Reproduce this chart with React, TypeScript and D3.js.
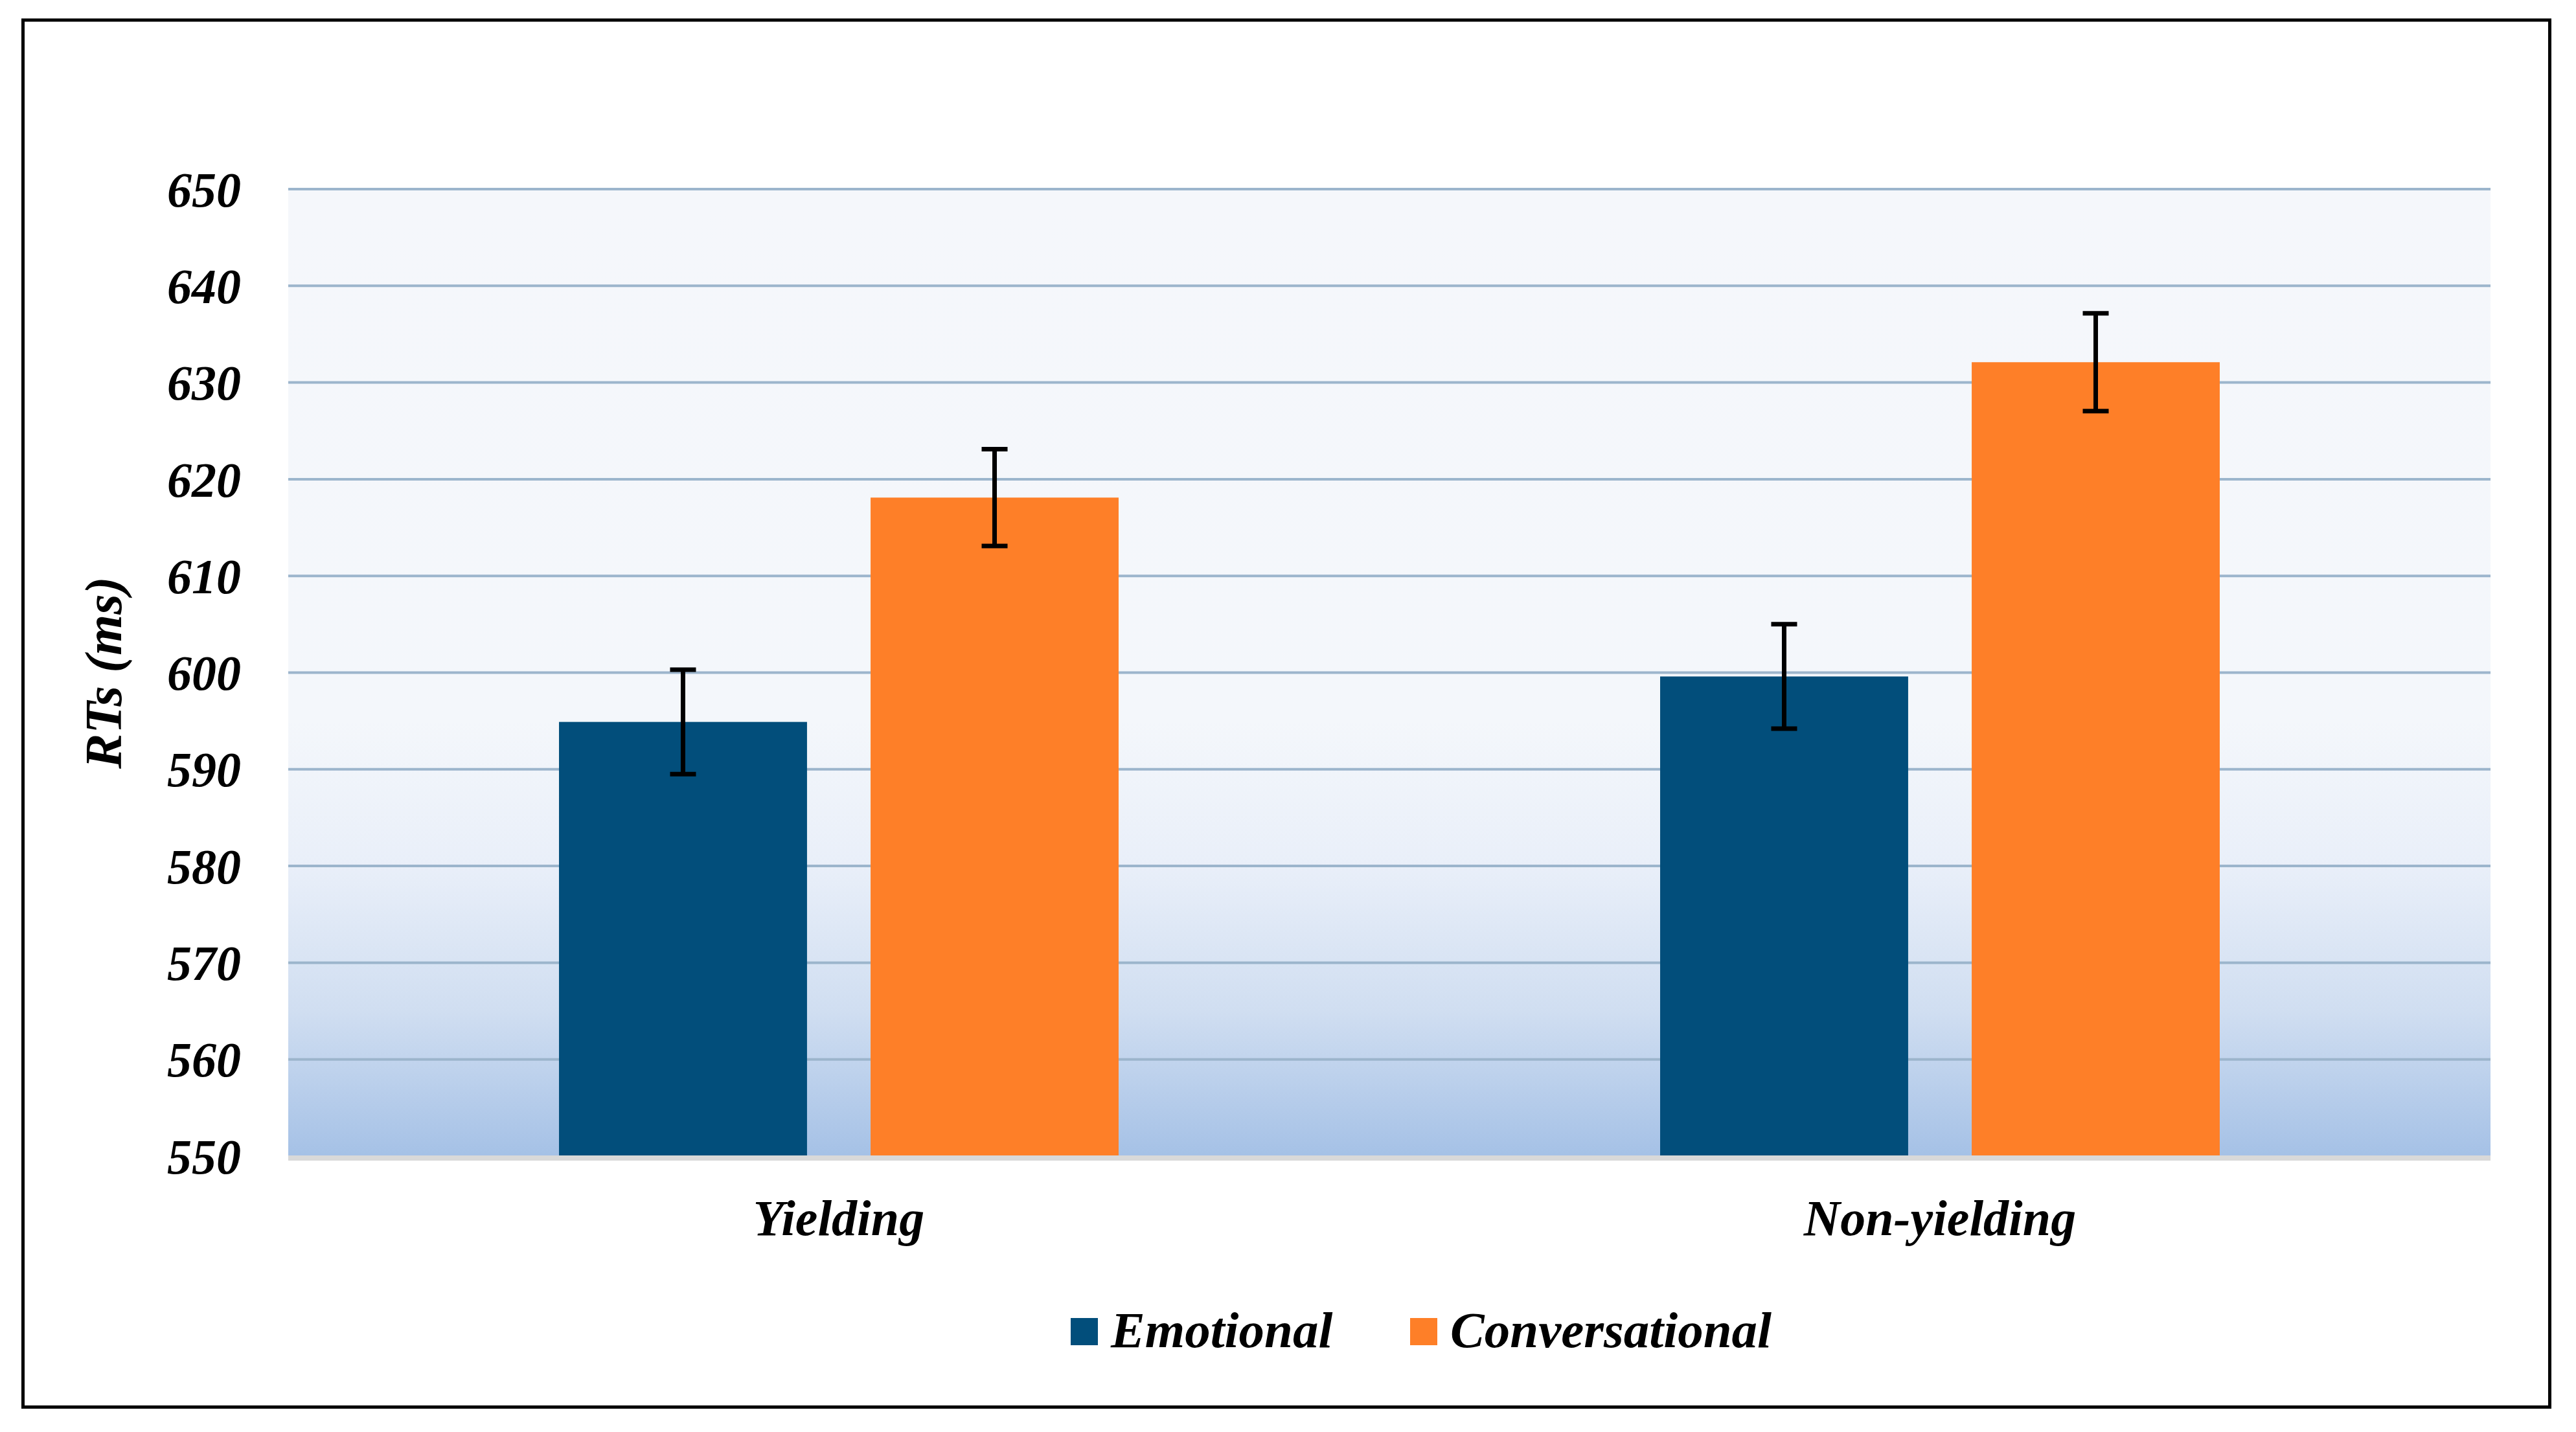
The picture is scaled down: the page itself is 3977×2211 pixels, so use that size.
import { FC, useEffect, useRef } from 'react';
import * as d3 from 'd3';

const categories = ['Yielding', 'Non-yielding'];
const seriesNames = ['Emotional', 'Conversational'];
const emotionalMeans = [594.9, 599.6];
const conversationalMeans = [618.1, 632.1];
const emotionalErrors = [5.4, 5.4];
const conversationalErrors = [5.0, 5.05];
const yTicks = [550, 560, 570, 580, 590, 600, 610, 620, 630, 640, 650];
const colors = ['#024e7b', '#fe7f28'];

const App: FC = () => {
  const chartRef = useRef<SVGSVGElement>(null);

  useEffect(() => {
    const W = 3977;
    const H = 2211;
    const margin = { top: 292, right: 132, bottom: 426, left: 445 };
    const width = W - margin.left - margin.right;
    const height = H - margin.top - margin.bottom;
    const font = "'Liberation Serif', 'Times New Roman', serif";

    const root = d3.select(chartRef.current);
    root.selectAll('*').remove();

    // outer frame
    root
      .append('rect')
      .attr('x', 35.5)
      .attr('y', 31)
      .attr('width', 3901)
      .attr('height', 2141.5)
      .attr('fill', '#fff')
      .attr('stroke', '#000')
      .attr('stroke-width', 5);

    // background gradient
    const defs = root.append('defs');
    const grad = defs
      .append('linearGradient')
      .attr('id', 'bgGrad')
      .attr('x1', 0)
      .attr('y1', 0)
      .attr('x2', 0)
      .attr('y2', 1);
    [
      [0, '#f5f7fb'],
      [0.55, '#f4f7fb'],
      [0.7, '#e9eff9'],
      [0.85, '#d0def1'],
      [1, '#a5c1e6'],
    ].forEach(([o, c]) => grad.append('stop').attr('offset', o as number).attr('stop-color', c as string));

    const svg = root.append('g').attr('transform', `translate(${margin.left},${margin.top})`);

    svg.append('rect').attr('width', width).attr('height', height).attr('fill', 'url(#bgGrad)');

    const y = d3.scaleLinear().domain([550, 650]).range([height, 0]);

    const x0 = d3.scaleBand().domain(categories).range([0, width]).padding(0);
    const x1 = d3
      .scaleBand()
      .domain(seriesNames)
      .range([0, x0.bandwidth()])
      .paddingInner(0.204)
      .paddingOuter(0.869);

    // gridlines
    svg
      .selectAll('line.grid')
      .data(yTicks.filter((t) => t !== 550))
      .enter()
      .append('line')
      .attr('class', 'grid')
      .attr('x1', 0)
      .attr('x2', width)
      .attr('y1', (d) => y(d))
      .attr('y2', (d) => y(d))
      .attr('stroke', '#9cb5cc')
      .attr('stroke-width', 4);

    // y tick labels
    svg
      .selectAll('text.ytick')
      .data(yTicks)
      .enter()
      .append('text')
      .attr('class', 'ytick')
      .attr('x', -73)
      .attr('y', (d) => y(d))
      .attr('dy', '0.35em')
      .attr('text-anchor', 'end')
      .style('font-family', font)
      .style('font-weight', 'bold')
      .style('font-style', 'italic')
      .style('font-size', '76px')
      .text((d) => d);

    const rows = categories.map((c, i) => ({
      category: c,
      values: [
        { name: seriesNames[0], mean: emotionalMeans[i], err: emotionalErrors[i] },
        { name: seriesNames[1], mean: conversationalMeans[i], err: conversationalErrors[i] },
      ],
    }));

    const groups = svg
      .selectAll('g.cat')
      .data(rows)
      .enter()
      .append('g')
      .attr('class', 'cat')
      .attr('transform', (d) => `translate(${x0(d.category)},0)`);

    groups
      .selectAll('rect')
      .data((d) => d.values)
      .enter()
      .append('rect')
      .attr('x', (d) => x1(d.name)!)
      .attr('y', (d) => y(d.mean))
      .attr('width', x1.bandwidth())
      .attr('height', (d) => height - y(d.mean))
      .attr('fill', (d, i) => colors[i]);

    // error bars
    const capHalf = 20;
    const eb = groups
      .selectAll('g.err')
      .data((d) => d.values)
      .enter()
      .append('g')
      .attr('class', 'err')
      .attr('stroke', '#000')
      .attr('stroke-width', 7);
    const cx = (d: { name: string }) => x1(d.name)! + x1.bandwidth() / 2;
    eb.append('line')
      .attr('x1', cx)
      .attr('x2', cx)
      .attr('y1', (d) => y(d.mean + d.err))
      .attr('y2', (d) => y(d.mean - d.err));
    eb.append('line')
      .attr('x1', (d) => cx(d) - capHalf)
      .attr('x2', (d) => cx(d) + capHalf)
      .attr('y1', (d) => y(d.mean + d.err))
      .attr('y2', (d) => y(d.mean + d.err));
    eb.append('line')
      .attr('x1', (d) => cx(d) - capHalf)
      .attr('x2', (d) => cx(d) + capHalf)
      .attr('y1', (d) => y(d.mean - d.err))
      .attr('y2', (d) => y(d.mean - d.err));

    // x axis line
    svg
      .append('line')
      .attr('x1', 0)
      .attr('x2', width)
      .attr('y1', height + 3)
      .attr('y2', height + 3)
      .attr('stroke', '#d9d9d9')
      .attr('stroke-width', 8);

    // category labels
    svg
      .selectAll('text.cat')
      .data(categories)
      .enter()
      .append('text')
      .attr('class', 'cat')
      .attr('x', (d) => x0(d)! + x0.bandwidth() / 2)
      .attr('y', height + 122)
      .attr('text-anchor', 'middle')
      .style('font-family', font)
      .style('font-weight', 'bold')
      .style('font-style', 'italic')
      .style('font-size', '78px')
      .text((d) => d);

    // y axis title
    root
      .append('text')
      .attr('transform', `translate(187,${margin.top + height / 2}) rotate(-90)`)
      .attr('text-anchor', 'middle')
      .style('font-family', font)
      .style('font-weight', 'bold')
      .style('font-style', 'italic')
      .style('font-size', '81px')
      .text('RTs (ms)');

    // legend
    const legendX = [1653, 2177];
    const legend = root
      .selectAll('g.legend')
      .data(seriesNames)
      .enter()
      .append('g')
      .attr('class', 'legend')
      .attr('transform', (d, i) => `translate(${legendX[i]},2035)`);
    legend.append('rect').attr('width', 42).attr('height', 42).attr('fill', (d, i) => colors[i]);
    legend
      .append('text')
      .attr('x', 62)
      .attr('y', 45)
      .style('font-family', font)
      .style('font-weight', 'bold')
      .style('font-style', 'italic')
      .style('font-size', '79px')
      .text((d) => d);
  }, []);

  return (
    <svg
      ref={chartRef}
      width={3977}
      height={2211}
      style={{ position: 'absolute', left: 0, top: 0, background: '#fff' }}
    />
  );
};

export default App;
